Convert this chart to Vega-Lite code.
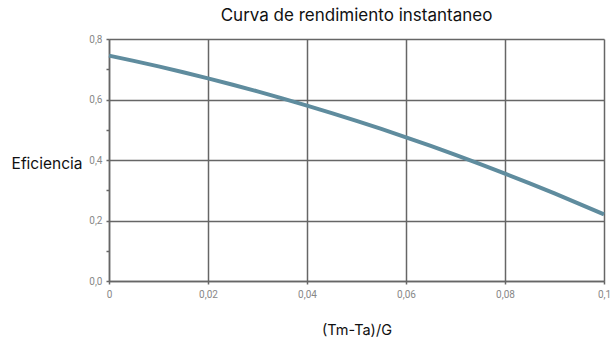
{
  "$schema": "https://vega.github.io/schema/vega-lite/v6.json",
  "width": 495,
  "height": 242,
  "autosize": {"type": "none"},
  "padding": {"left": 109, "top": 39, "right": 7, "bottom": 57},
  "background": "white",
  "title": {"text": "Curva de rendimiento instantaneo", "font": "Inter", "fontSize": 17, "fontWeight": "normal", "color": "#111", "anchor": "middle", "offset": 9},
  "config": {"view": {"stroke": null}},
  "data": {"values": [
    {"x": 0, "eff": 0.745},
    {"x": 0.005, "eff": 0.7277},
    {"x": 0.01, "eff": 0.7094},
    {"x": 0.015, "eff": 0.6902},
    {"x": 0.02, "eff": 0.67},
    {"x": 0.025, "eff": 0.6489},
    {"x": 0.03, "eff": 0.6269},
    {"x": 0.035, "eff": 0.6039},
    {"x": 0.04, "eff": 0.58},
    {"x": 0.045, "eff": 0.5552},
    {"x": 0.05, "eff": 0.5294},
    {"x": 0.055, "eff": 0.5027},
    {"x": 0.06, "eff": 0.475},
    {"x": 0.065, "eff": 0.4464},
    {"x": 0.07, "eff": 0.4169},
    {"x": 0.075, "eff": 0.3864},
    {"x": 0.08, "eff": 0.355},
    {"x": 0.085, "eff": 0.3227},
    {"x": 0.09, "eff": 0.2894},
    {"x": 0.095, "eff": 0.2552},
    {"x": 0.1, "eff": 0.22}
  ]},
  "mark": {"type": "line", "color": "#5f8c9e", "strokeWidth": 4, "interpolate": "monotone"},
  "encoding": {
    "x": {
      "field": "x", "type": "quantitative",
      "scale": {"domain": [0, 0.1], "nice": false},
      "axis": {
        "values": [0, 0.02, 0.04, 0.06, 0.08, 0.1],
        "labelExpr": "replace(format(datum.value, '.2~f'), '.', ',')",
        "title": "(Tm-Ta)/G",
        "titleFont": "Inter", "titleFontSize": 14.5, "titleFontWeight": "normal", "titleColor": "#111",
        "titleBaseline": "middle", "titleY": 49,
        "labelFont": "Roboto", "labelFontSize": 10, "labelColor": "#888", "labelPadding": 5,
        "labelFlush": false,
        "grid": true, "gridColor": "#666", "gridWidth": 1.5,
        "domainColor": "#666", "domainWidth": 1.5,
        "tickColor": "#666", "tickSize": 3, "tickWidth": 1.5
      }
    },
    "y": {
      "field": "eff", "type": "quantitative",
      "scale": {"domain": [0, 0.8], "nice": false},
      "axis": {
        "values": [0, 0.1, 0.2, 0.3, 0.4, 0.5, 0.6, 0.7, 0.8],
        "labelExpr": "round(datum.value*10) % 2 == 1 ? '' : replace(format(datum.value, '.1f'), '.', ',')",
        "title": "Eficiencia",
        "titleAngle": 0, "titleAlign": "right", "titleBaseline": "middle",
        "titleX": -27, "titleY": 124,
        "titleFont": "Inter", "titleFontSize": 15.5, "titleFontWeight": "normal", "titleColor": "#111",
        "labelFont": "Roboto", "labelFontSize": 10, "labelColor": "#888", "labelPadding": 4,
        "labelFlush": false,
        "grid": true, "gridColor": "#666", "gridWidth": 1.5,
        "gridOpacity": {"condition": {"test": "round(datum.value*10) % 2 == 1", "value": 0}, "value": 1},
        "domainColor": "#666", "domainWidth": 1.5,
        "tickColor": "#666", "tickSize": 3, "tickWidth": 1.5
      }
    }
  }
}
